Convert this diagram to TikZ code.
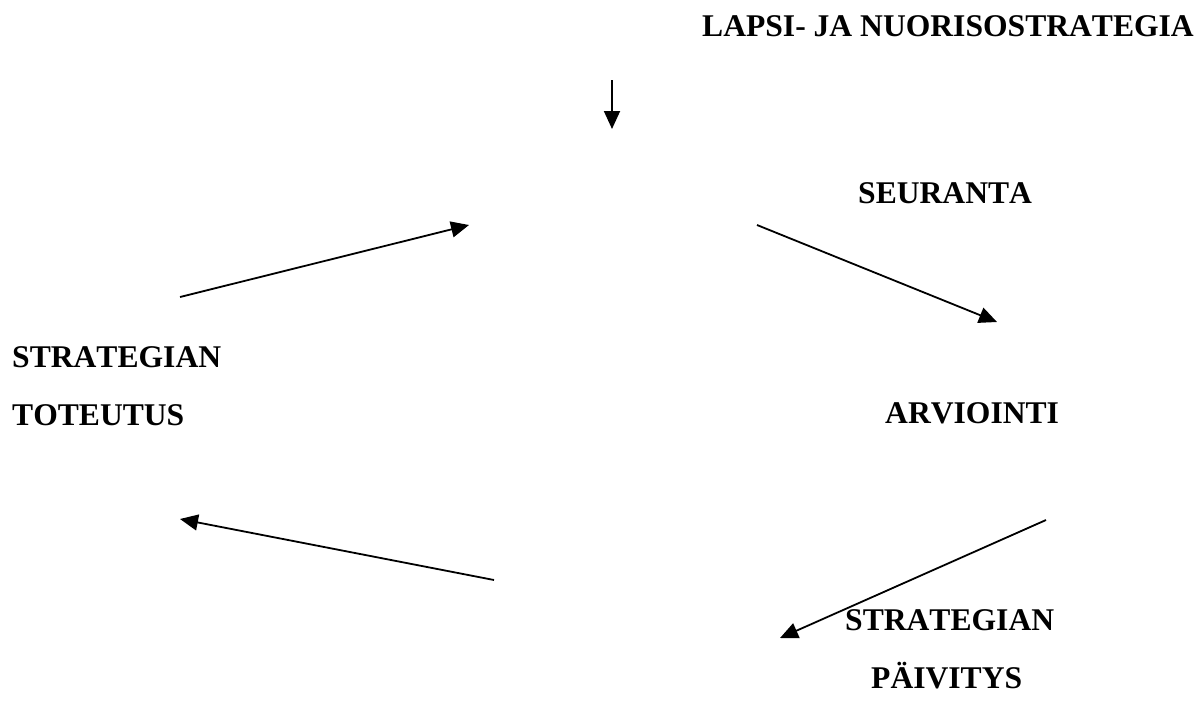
\documentclass[tikz,border=0pt]{standalone}
\usepackage{fontspec}
\setmainfont[Kerning=Off]{Liberation Serif}
\usetikzlibrary{arrows.meta}
\tikzset{
  lbl/.style={anchor=base west, inner sep=0pt, font=\fontsize{31.6}{32}\selectfont\bfseries},
  arr/.style={line width=1.8pt, -{Triangle[length=18pt,width=16pt]}}
}
\begin{document}
\begin{tikzpicture}[x=1pt,y=-1pt]
\useasboundingbox (0,0) rectangle (1198,702);
\node[lbl] (lapsi) at (702,36) {LAPSI- JA NUORISOSTRATEGIA};
\node[lbl] (seur) at (858,203) {SEURANTA};
\node[lbl] (strat1) at (12,367) {STRATEGIAN};
\node[lbl] (tot) at (12,425) {TOTEUTUS};
\node[lbl] (arv) at (885,423) {ARVIOINTI};
\node[lbl] (strat2) at (845,630) {STRATEGIAN};
\node[lbl] (paiv) at (871,688) {PÄIVITYS};
\coordinate (a1s) at (612,80); \coordinate (a1e) at (612,129);
\coordinate (a2s) at (180,297); \coordinate (a2e) at (469,225);
\coordinate (a3s) at (757,225); \coordinate (a3e) at (997,322);
\coordinate (a4s) at (1046,520); \coordinate (a4e) at (780,638);
\coordinate (a5s) at (494,580); \coordinate (a5e) at (180,519);
\draw[arr] (a1s) -- (a1e);
\draw[arr] (a2s) -- (a2e);
\draw[arr] (a3s) -- (a3e);
\draw[arr] (a4s) -- (a4e);
\draw[arr] (a5s) -- (a5e);
\end{tikzpicture}
\end{document}
